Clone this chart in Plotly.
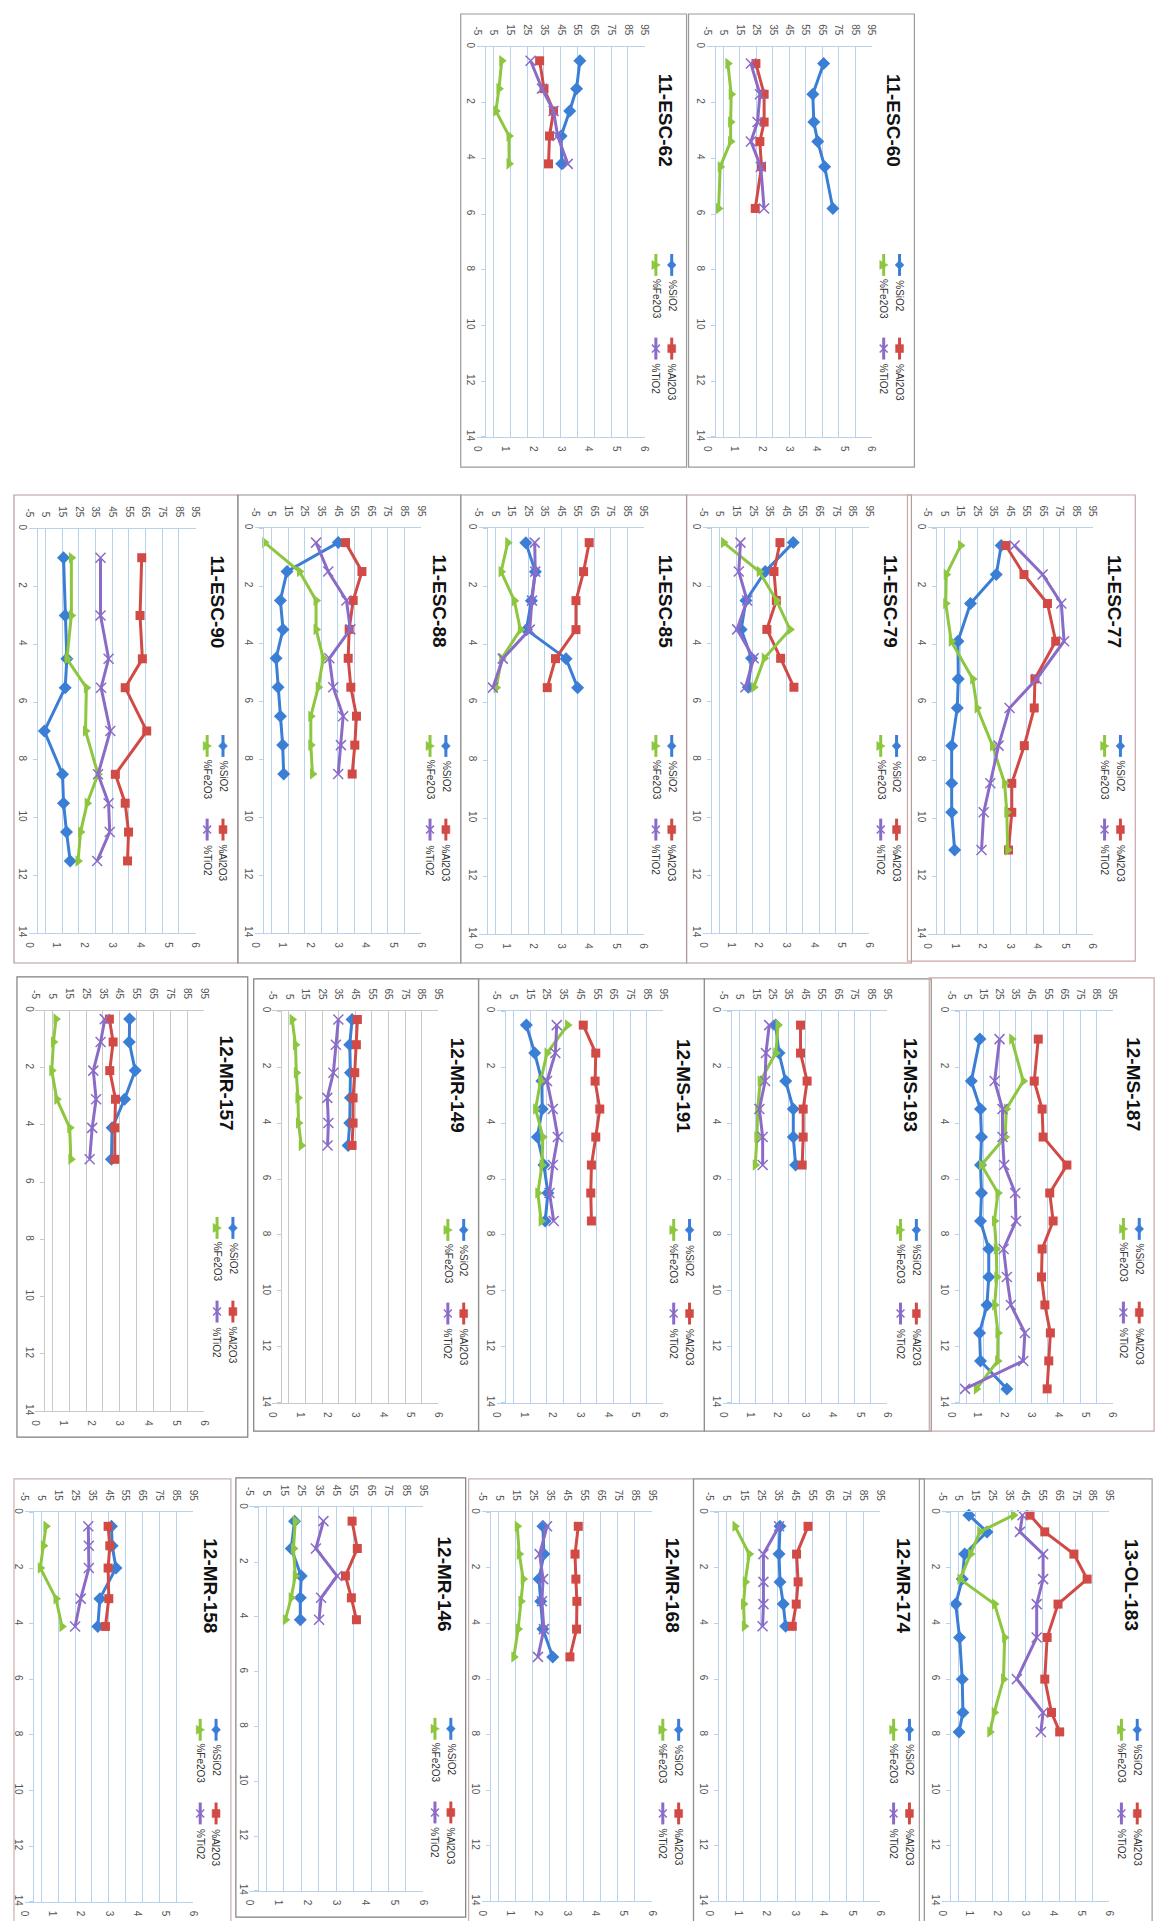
import plotly.graph_objects as go

W, H = 1163, 1921

# ---------------- data: depth (m) and oxide contents per profile ----------------
esc62_depth = [0.5, 1.5, 2.3, 3.2, 4.2]
esc62_sio2 = [56.4, 54.4, 50.3, 45.2, 45.6]
esc62_al2o3 = [32.4, 35.0, 40.7, 38.3, 37.7]
esc62_fe2o3 = [0.89, 0.79, 0.68, 1.15, 1.15]
esc62_tio2 = [1.92, 2.33, 2.74, 2.89, 3.25]

esc60_depth = [0.6, 1.7, 2.7, 3.4, 4.3, 5.8]
esc60_sio2 = [65.9, 59.3, 59.9, 62.3, 66.5, 71.5]
esc60_al2o3 = [24.7, 29.7, 29.7, 27.1, 28.1, 24.3]
esc60_fe2o3 = [0.76, 0.88, 0.86, 0.86, 0.48, 0.42]
esc60_tio2 = [1.60, 1.93, 1.84, 1.60, 1.96, 2.08]

esc90_depth = [1, 3, 4.5, 5.5, 7, 8.5, 9.5, 10.5, 11.5]
esc90_sio2 = [15.8, 16.8, 17.8, 16.8, 4.3, 15.2, 15.8, 17.6, 19.8]
esc90_al2o3 = [62.7, 61.7, 63.1, 52.8, 65.7, 46.9, 52.8, 54.8, 54.2]
esc90_fe2o3 = [1.53, 1.53, 1.37, 2.07, 2.04, 2.49, 2.10, 1.86, 1.77]
esc90_tio2 = [2.58, 2.58, 2.87, 2.60, 2.93, 2.49, 2.87, 2.91, 2.46]

esc88_depth = [0.5, 1.5, 2.5, 3.5, 4.5, 5.5, 6.5, 7.5, 8.5]
esc88_sio2 = [45.2, 14.3, 10.3, 11.9, 7.7, 8.9, 10.3, 11.7, 12.3]
esc88_al2o3 = [49.6, 59.5, 54.2, 51.8, 51.2, 52.8, 56.2, 55.2, 53.6]
esc88_fe2o3 = [0.35, 1.61, 2.21, 2.21, 2.47, 2.29, 2.02, 2.02, 2.08]
esc88_tio2 = [2.21, 2.65, 3.31, 3.45, 2.69, 2.83, 3.19, 3.11, 3.01]

esc85_depth = [0.5, 1.5, 2.5, 3.5, 4.5, 5.5]
esc85_sio2 = [23.6, 29.4, 27.0, 24.0, 48.0, 55.0]
esc85_al2o3 = [62.0, 58.6, 54.0, 54.0, 41.6, 36.6]
esc85_fe2o3 = [1.06, 0.82, 1.30, 1.52, 0.84, 0.64]
esc85_tio2 = [2.04, 2.06, 1.94, 1.86, 0.88, 0.52]

esc79_depth = [0.5, 1.5, 2.5, 3.5, 4.5, 5.5]
esc79_sio2 = [49.3, 32.4, 20.8, 17.9, 24.2, 22.2]
esc79_al2o3 = [41.3, 37.7, 39.1, 33.4, 41.7, 49.7]
esc79_fe2o3 = [0.74, 2.03, 2.65, 3.14, 2.21, 1.83]
esc79_tio2 = [1.35, 1.29, 1.59, 1.23, 1.83, 1.53]

esc77_depth = [0.6, 1.6, 2.6, 3.9, 5.2, 6.2, 7.5, 8.8, 9.8, 11.1]
esc77_sio2 = [39.6, 36.6, 21.0, 13.4, 13.6, 13.0, 9.6, 9.6, 9.6, 11.4]
esc77_al2o3 = [42.4, 53.4, 67.6, 72.6, 60.0, 59.6, 53.6, 46.0, 46.0, 44.0]
esc77_fe2o3 = [1.20, 0.68, 0.66, 0.86, 1.64, 1.80, 2.36, 2.80, 2.88, 2.91]
esc77_tio2 = [3.16, 4.18, 4.86, 4.96, 3.96, 2.98, 2.58, 2.28, 2.04, 1.96]

mr157_depth = [0.3, 1.1, 2.1, 3.1, 4.1, 5.2]
mr157_sio2 = [50.9, 50.7, 54.2, 47.9, 40.5, 40.1]
mr157_al2o3 = [38.9, 41.1, 39.1, 42.5, 42.1, 42.1]
mr157_fe2o3 = [0.73, 0.64, 0.58, 0.76, 1.22, 1.26]
mr157_tio2 = [2.47, 2.32, 2.06, 2.16, 2.02, 1.93]

mr149_depth = [0.3, 1.2, 2.2, 3.1, 4.0, 4.8]
mr149_sio2 = [43.1, 41.7, 42.1, 42.1, 41.7, 40.7]
mr149_al2o3 = [46.3, 45.7, 44.7, 43.7, 43.7, 43.1]
mr149_fe2o3 = [0.72, 0.84, 0.87, 0.93, 0.95, 1.05]
mr149_tio2 = [2.39, 2.30, 2.21, 1.99, 2.03, 2.00]

ms191_depth = [0.5, 1.5, 2.5, 3.5, 4.5, 5.5, 6.5, 7.5]
ms191_sio2 = [12.8, 17.8, 22.1, 22.3, 19.4, 23.3, 25.7, 24.1]
ms191_al2o3 = [46.9, 54.4, 54.0, 56.8, 54.4, 51.8, 51.4, 51.8]
ms191_fe2o3 = [2.55, 1.81, 1.58, 1.40, 1.66, 1.63, 1.48, 1.60]
ms191_tio2 = [2.16, 2.11, 1.81, 2.02, 2.20, 2.02, 1.90, 2.05]

ms193_depth = [0.5, 1.5, 2.5, 3.5, 4.5, 5.5]
ms193_sio2 = [27.1, 29.1, 33.2, 37.8, 37.8, 39.2]
ms193_al2o3 = [42.2, 42.2, 46.2, 43.8, 43.8, 43.2]
ms193_fe2o3 = [2.01, 1.93, 1.36, 1.27, 1.24, 1.18]
ms193_tio2 = [1.69, 1.57, 1.54, 1.33, 1.45, 1.45]

ms187_depth = [1, 2.5, 3.5, 4.5, 5.5, 6.5, 7.5, 8.5, 9.5, 10.5, 11.5, 12.5, 13.5]
ms187_sio2 = [13.0, 7.7, 13.4, 14.0, 13.4, 14.0, 13.4, 18.5, 18.5, 17.4, 12.8, 13.4, 29.7]
ms187_al2o3 = [49.1, 46.6, 51.5, 52.1, 66.8, 56.2, 58.3, 51.5, 51.1, 53.2, 56.6, 55.6, 54.6]
ms187_fe2o3 = [2.26, 2.69, 2.06, 2.02, 1.14, 1.75, 1.62, 1.69, 1.71, 1.63, 1.75, 1.74, 0.95]
ms187_tio2 = [1.81, 1.63, 1.92, 1.92, 1.98, 2.39, 2.42, 1.96, 2.08, 2.23, 2.75, 2.69, 0.53]

mr158_depth = [0.5, 1.2, 2.0, 3.1, 4.1]
mr158_sio2 = [46.6, 47.0, 49.3, 39.7, 38.5]
mr158_al2o3 = [44.6, 45.6, 44.6, 45.0, 43.0]
mr158_fe2o3 = [0.76, 0.67, 0.56, 1.12, 1.33]
mr158_tio2 = [2.27, 2.29, 2.29, 2.00, 1.80]

mr146_depth = [0.5, 1.5, 2.5, 3.3, 4.1]
mr146_sio2 = [21.1, 19.2, 24.9, 24.4, 24.4]
mr146_al2o3 = [54.1, 57.1, 50.3, 53.7, 56.6]
mr146_fe2o3 = [1.59, 1.53, 1.59, 1.45, 1.25]
mr146_tio2 = [2.56, 2.30, 3.03, 2.48, 2.41]

mr168_depth = [0.5, 1.5, 2.4, 3.2, 4.2, 5.2]
mr168_sio2 = [30.9, 31.5, 28.6, 29.6, 30.9, 36.7]
mr168_al2o3 = [51.7, 49.8, 50.3, 50.9, 50.7, 46.8]
mr168_fe2o3 = [1.25, 1.32, 1.46, 1.38, 1.28, 1.13]
mr168_tio2 = [2.30, 2.04, 2.16, 2.12, 2.19, 1.98]

mr174_depth = [0.5, 1.5, 2.5, 3.3, 4.1]
mr174_sio2 = [36.2, 35.6, 36.2, 38.1, 39.5]
mr174_al2o3 = [52.6, 45.9, 46.8, 45.7, 43.4]
mr174_fe2o3 = [0.89, 1.39, 1.25, 1.19, 1.22]
mr174_tio2 = [2.44, 1.89, 1.89, 1.89, 1.86]

ol183_depth = [0.1, 0.7, 1.5, 2.4, 3.3, 4.5, 6.0, 7.2, 7.9]
ol183_sio2 = [11.2, 22.0, 8.6, 7.2, 3.3, 5.6, 7.2, 7.6, 5.3]
ol183_al2o3 = [47.7, 56.5, 73.9, 81.8, 64.4, 57.9, 56.5, 60.5, 65.4]
ol183_fe2o3 = [2.57, 1.36, 1.03, 0.65, 1.89, 2.25, 2.21, 1.88, 1.72]
ol183_tio2 = [2.89, 2.80, 3.63, 3.63, 3.40, 3.40, 2.69, 3.63, 3.55]

series_names = ["%SiO2", "%Al2O3", "%Fe2O3", "%TiO2"]
primary_ticks = [-5, 5, 15, 25, 35, 45, 55, 65, 75, 85, 95]
primary_labels = ["-5", "5", "15", "25", "35", "45", "55", "65", "75", "85", "95"]
secondary_ticks = [0, 1, 2, 3, 4, 5, 6]
depth_ticks = [0, 2, 4, 6, 8, 10, 12, 14]

# ---------------- styling ----------------
C_SIO2 = "#3a7fd5"
C_AL = "#d24a45"
C_FE = "#8dc63f"
C_TI = "#8a6cc8"
GRID_BLUE = "#b9d2ec"
GRID_GREY = "#c9c9c9"
TICK_COL = "#555555"
FONT = "Liberation Sans"
LW = 3

# panel: title, data, box (left, right, top, bottom), plot area (x at -5, x at 95, y at depth 0, y at depth 14), grid colour, border colour
panels = [
    ("11-ESC-62", (esc62_depth, esc62_sio2, esc62_al2o3, esc62_fe2o3, esc62_tio2), (452, 680, 2, 457), (468.3, 637.7, 35, 426.7), GRID_BLUE, "#9a9a9a"),
    ("11-ESC-60", (esc60_depth, esc60_sio2, esc60_al2o3, esc60_fe2o3, esc60_tio2), (682, 910, 2, 457), (700.7, 866.7, 35, 426.7), GRID_BLUE, "#9a9a9a"),
    ("11-ESC-90", (esc90_depth, esc90_sio2, esc90_al2o3, esc90_fe2o3, esc90_tio2), (1, 227, 485, 955), (16, 184.3, 519, 925), GRID_BLUE, "#b79a9a"),
    ("11-ESC-88", (esc88_depth, esc88_sio2, esc88_al2o3, esc88_fe2o3, esc88_tio2), (227, 452, 485, 955), (244.3, 411.7, 518.3, 925), GRID_BLUE, "#8f8f8f"),
    ("11-ESC-85", (esc85_depth, esc85_sio2, esc85_al2o3, esc85_fe2o3, esc85_tio2), (452, 680, 485, 955), (470, 636.7, 518.3, 926), GRID_BLUE, "#9a9a9a"),
    ("11-ESC-79", (esc79_depth, esc79_sio2, esc79_al2o3, esc79_fe2o3, esc79_tio2), (680, 907, 485, 955), (696.7, 864.3, 518.3, 925), GRID_BLUE, "#b79a9a"),
    ("11-ESC-77", (esc77_depth, esc77_sio2, esc77_al2o3, esc77_fe2o3, esc77_tio2), (903, 1133, 485, 953), (923.3, 1090, 518.3, 926), GRID_BLUE, "#c9a6a6"),
    ("12-MR-157", (mr157_depth, mr157_sio2, mr157_al2o3, mr157_fe2o3, mr157_tio2), (4, 237, 969, 1431), (22.7, 192.7, 1002.7, 1405), GRID_GREY, "#7f7f7f"),
    ("12-MR-149", (mr149_depth, mr149_sio2, mr149_al2o3, mr149_fe2o3, mr149_tio2), (243, 470, 971, 1425), (261.7, 429.3, 1003.3, 1396.7), GRID_GREY, "#7f7f7f"),
    ("12-MS-191", (ms191_depth, ms191_sio2, ms191_al2o3, ms191_fe2o3, ms191_tio2), (470, 698, 971, 1425), (488.3, 656.7, 1003.3, 1396.7), GRID_BLUE, "#8f8f8f"),
    ("12-MS-193", (ms193_depth, ms193_sio2, ms193_al2o3, ms193_fe2o3, ms193_tio2), (698, 927, 971, 1425), (716.7, 882.7, 1003.3, 1396.7), GRID_BLUE, "#8f8f8f"),
    ("12-MS-187", (ms187_depth, ms187_sio2, ms187_al2o3, ms187_fe2o3, ms187_tio2), (925, 1152, 970, 1425), (946.7, 1110, 1003.3, 1396.7), GRID_BLUE, "#c9a6a6"),
    ("12-MR-158", (mr158_depth, mr158_sio2, mr158_al2o3, mr158_fe2o3, mr158_tio2), (1, 220, 1473, 1920), (11.7, 181.7, 1506.7, 1897.7), GRID_BLUE, "#c9b0b0"),
    ("12-MR-146", (mr146_depth, mr146_sio2, mr146_al2o3, mr146_fe2o3, mr146_tio2), (225, 457, 1472, 1913), (238.3, 414.3, 1501.7, 1886.7), GRID_BLUE, "#7f7f7f"),
    ("12-MR-168", (mr168_depth, mr168_sio2, mr168_al2o3, mr168_fe2o3, mr168_tio2), (460, 687, 1473, 1920), (473.3, 645, 1506.7, 1897.3), GRID_BLUE, "#c9b0b0"),
    ("12-MR-174", (mr174_depth, mr174_sio2, mr174_al2o3, mr174_fe2o3, mr174_tio2), (687, 920, 1473, 1920), (703.3, 875.7, 1506.7, 1897.3), GRID_BLUE, "#8f8f8f"),
    ("13-OL-183", (ol183_depth, ol183_sio2, ol183_al2o3, ol183_fe2o3, ol183_tio2), (915, 1150, 1473, 1920), (937.7, 1106.7, 1506.7, 1897.3), GRID_BLUE, "#9a9a9a"),
]


def px(x):
    return x / W


def py(y):
    return 1 - y / H


fig = go.Figure()
layout = {}
shapes = []
annotations = []

for i, (title, data, box, plot, gc, bc) in enumerate(panels):
    depth, sio2, al2o3, fe2o3, tio2 = data
    bl, br, bt, bb = box
    xl, xr, yt, yb = plot
    xa_p = "x%d" % (2 * i + 1)
    xa_s = "x%d" % (2 * i + 2)
    ya = "y%d" % (i + 1)
    kxp = "xaxis" if i == 0 else "xaxis%d" % (2 * i + 1)
    kxs = "xaxis%d" % (2 * i + 2)
    ky = "yaxis" if i == 0 else "yaxis%d" % (i + 1)
    tickfont = dict(family=FONT, size=10, color=TICK_COL)

    layout[kxp] = dict(domain=[px(xl), px(xr)], range=[-5, 95], anchor=ya, side="top",
                       tickmode="array", tickvals=primary_ticks, ticktext=primary_labels,
                       tickangle=90, ticklabelstandoff=7,
                       showgrid=True, gridcolor=gc, gridwidth=1, zeroline=False,
                       showline=True, linecolor=gc, linewidth=1,
                       ticks="", tickfont=tickfont, fixedrange=True)
    layout[kxs] = dict(overlaying=xa_p, range=[0, 6], anchor=ya, side="bottom",
                       tickmode="array", tickvals=secondary_ticks, tickangle=90,
                       ticklabelstandoff=6,
                       showgrid=False, zeroline=False, showline=True, linecolor=gc,
                       linewidth=1, ticks="", tickfont=tickfont, fixedrange=True)
    layout[ky] = dict(domain=[py(yb), py(yt)], range=[14, 0], anchor="free",
                      position=px(xl + 0.05 * (xr - xl)),
                      tickmode="array", tickvals=depth_ticks, tickangle=90,
                      ticklabelstandoff=2,
                      showgrid=False, zeroline=False, showline=True, linecolor=gc,
                      linewidth=1, ticks="outside", ticklen=4, tickcolor=gc,
                      tickfont=tickfont, fixedrange=True)

    fig.add_trace(go.Scatter(x=sio2, y=depth, xaxis=xa_p, yaxis=ya, mode="lines+markers",
                             name=series_names[0], line=dict(color=C_SIO2, width=LW),
                             marker=dict(symbol="diamond", size=10, color=C_SIO2),
                             showlegend=False, cliponaxis=False))
    fig.add_trace(go.Scatter(x=al2o3, y=depth, xaxis=xa_p, yaxis=ya, mode="lines+markers",
                             name=series_names[1], line=dict(color=C_AL, width=LW),
                             marker=dict(symbol="square", size=9, color=C_AL),
                             showlegend=False, cliponaxis=False))
    fig.add_trace(go.Scatter(x=fe2o3, y=depth, xaxis=xa_s, yaxis=ya, mode="lines+markers",
                             name=series_names[2], line=dict(color=C_FE, width=LW),
                             marker=dict(symbol="triangle-right", size=10, color=C_FE),
                             showlegend=False, cliponaxis=False))
    fig.add_trace(go.Scatter(x=tio2, y=depth, xaxis=xa_s, yaxis=ya, mode="lines+markers",
                             name=series_names[3], line=dict(color=C_TI, width=LW),
                             marker=dict(symbol="x-thin", size=10, color=C_TI,
                                         line=dict(color=C_TI, width=1.5)),
                             showlegend=False, cliponaxis=False))

    # panel frame
    shapes.append(dict(type="rect", xref="paper", yref="paper", x0=px(bl), x1=px(br),
                       y0=py(bb), y1=py(bt), line=dict(color=bc, width=1.2),
                       fillcolor="rgba(0,0,0,0)", layer="below"))

    # title (rotated)
    annotations.append(dict(text="<b>%s</b>" % title, xref="paper", yref="paper",
                            x=px(br - 21), y=py(bt + 107), xanchor="center", yanchor="middle",
                            textangle=90, showarrow=False,
                            font=dict(family=FONT, size=19, color="#111111")))

    # legend (rotated, drawn with shapes + text)
    col_a = br - 15
    col_b = br - 31
    row1 = bt + 252
    row2 = bt + 336
    entries = [
        (series_names[0], col_a, row1, C_SIO2, "diamond", 17),
        (series_names[1], col_a, row2, C_AL, "square", 20),
        (series_names[2], col_b, row1, C_FE, "triangle", 20),
        (series_names[3], col_b, row2, C_TI, "x", 17),
    ]
    for name, cx, cy, col, sym, half in entries:
        shapes.append(dict(type="line", xref="paper", yref="paper", x0=px(cx), x1=px(cx),
                           y0=py(cy - 11), y1=py(cy + 11), line=dict(color=col, width=LW)))
        if sym == "diamond":
            path = "M %f,%f L %f,%f L %f,%f L %f,%f Z" % (
                px(cx - 4.5), py(cy), px(cx), py(cy - 4.5), px(cx + 4.5), py(cy), px(cx), py(cy + 4.5))
            shapes.append(dict(type="path", xref="paper", yref="paper", path=path,
                               fillcolor=col, line=dict(color=col, width=0.5)))
        elif sym == "square":
            shapes.append(dict(type="rect", xref="paper", yref="paper", x0=px(cx - 4),
                               x1=px(cx + 4), y0=py(cy + 4), y1=py(cy - 4),
                               fillcolor=col, line=dict(color=col, width=0.5)))
        elif sym == "triangle":
            path = "M %f,%f L %f,%f L %f,%f Z" % (
                px(cx - 4), py(cy - 4.5), px(cx + 4.5), py(cy), px(cx - 4), py(cy + 4.5))
            shapes.append(dict(type="path", xref="paper", yref="paper", path=path,
                               fillcolor=col, line=dict(color=col, width=0.5)))
        else:
            shapes.append(dict(type="line", xref="paper", yref="paper", x0=px(cx - 4),
                               x1=px(cx + 4), y0=py(cy - 4), y1=py(cy + 4),
                               line=dict(color=col, width=1.5)))
            shapes.append(dict(type="line", xref="paper", yref="paper", x0=px(cx - 4),
                               x1=px(cx + 4), y0=py(cy + 4), y1=py(cy - 4),
                               line=dict(color=col, width=1.5)))
        annotations.append(dict(text=name, xref="paper", yref="paper", x=px(cx),
                                y=py(cy + 14 + half), xanchor="center", yanchor="middle",
                                textangle=90, showarrow=False,
                                font=dict(family=FONT, size=10, color="#333333")))

fig.update_layout(**layout)
fig.update_layout(width=W, height=H, autosize=False,
                  margin=dict(l=0, r=0, t=0, b=0),
                  paper_bgcolor="white", plot_bgcolor="white",
                  showlegend=False, shapes=shapes, annotations=annotations,
                  font=dict(family=FONT))

fig.write_html("out.html", config={"displayModeBar": False})
